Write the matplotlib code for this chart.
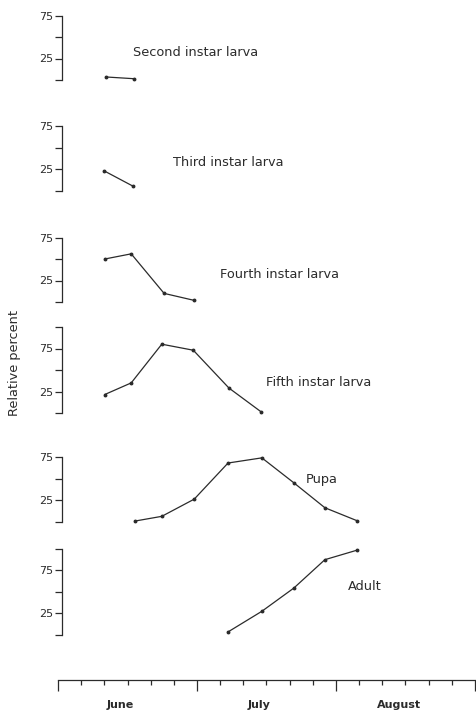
import matplotlib.pyplot as plt
from matplotlib.ticker import MultipleLocator

# figure size in pixels (dpi 100)
W, H = 477, 712

# sampling dates in days from 1 June, and relative percent for each stage
second_days = [10.4, 16.4]
second_pct = [3.5, 1.5]

third_days = [9.9, 16.2]
third_pct = [23, 5]

fourth_days = [10.1, 15.8, 22.9, 29.3]
fourth_pct = [50, 56, 10, 2]

fifth_days = [10.1, 15.8, 22.4, 29.2, 36.9, 43.8]
fifth_pct = [21.5, 35, 80, 73, 29, 1.5]

pupa_days = [16.6, 22.4, 29.4, 36.7, 44.0, 50.9, 57.6, 64.5]
pupa_pct = [0.5, 6, 26, 68, 74, 45, 16, 1]

adult_days = [36.7, 44.0, 50.9, 57.6, 64.5]
adult_pct = [3, 27, 54, 87, 98]

stages = ['Second instar larva', 'Third instar larva', 'Fourth instar larva',
          'Fifth instar larva', 'Pupa', 'Adult']
axis_tops = [75, 75, 75, 100, 75, 100]
months = ['June', 'July', 'August']

series = [(second_days, second_pct), (third_days, third_pct),
          (fourth_days, fourth_pct), (fifth_days, fifth_pct),
          (pupa_days, pupa_pct), (adult_days, adult_pct)]

# layout (pixels)
zero_px = [80, 190.5, 302, 413, 521.5, 634.5]   # where 0 % sits for each panel
label_px = [(133, 53), (173, 163), (220, 274), (266, 383), (306, 479), (348, 587)]
x_left, x_right = 58, 475
px_per_unit = 0.86

ink = '#2b2b2b'
plt.rcParams['font.family'] = 'DejaVu Sans'

fig = plt.figure(figsize=(W / 100, H / 100), dpi=100)

for (days, pct), name, top, z, (lx, ly) in zip(series, stages, axis_tops, zero_px, label_px):
    ax = fig.add_axes([x_left / W, 1 - z / H, (x_right - x_left) / W, 100 * px_per_unit / H])
    ax.patch.set_visible(False)
    ax.set_xlim(0, 90)
    ax.set_ylim(0, 100)
    for s in ['top', 'right', 'bottom']:
        ax.spines[s].set_visible(False)
    ax.spines['left'].set_position(('data', 0.85))
    ax.spines['left'].set_bounds(0, top)
    ax.spines['left'].set_color(ink)
    ax.spines['left'].set_linewidth(0.9)
    ticks = list(range(0, top + 1, 25))
    ax.set_yticks(ticks)
    ax.set_yticklabels(['25' if t == 25 else '75' if t == 75 else '' for t in ticks])
    ax.tick_params(axis='y', length=5, width=0.9, color=ink, labelcolor=ink,
                   labelsize=8, pad=1)
    ax.set_xticks([])
    ax.plot(days, pct, color=ink, lw=0.9, marker='o', ms=1.8, clip_on=False)
    fig.text(lx / W, 1 - ly / H, name, ha='left', va='center', fontsize=9.3, color=ink)

# time axis along the bottom
axx = fig.add_axes([x_left / W, 1 - 680 / H, (x_right - x_left) / W, 10 / H])
axx.patch.set_visible(False)
axx.set_xlim(0, 90)
axx.set_yticks([])
for s in ['top', 'right', 'left']:
    axx.spines[s].set_visible(False)
axx.spines['bottom'].set_color(ink)
axx.spines['bottom'].set_linewidth(0.9)
axx.xaxis.set_major_locator(MultipleLocator(30))
axx.xaxis.set_minor_locator(MultipleLocator(5))
axx.tick_params(axis='x', which='major', length=8, width=0.9, color=ink, labelbottom=False)
axx.tick_params(axis='x', which='minor', length=3.8, width=0.9, color=ink)
for i, m in enumerate(months):
    axx.text(30 * i + 13.5, -2.5, m, transform=axx.get_xaxis_transform(),
             ha='center', va='center', fontsize=8, fontweight='bold', color=ink)

fig.text(15 / W, 1 - 363 / H, 'Relative percent', rotation=90, ha='center', va='center',
         fontsize=9.3, color=ink)

fig.savefig('out.png', dpi=100)
